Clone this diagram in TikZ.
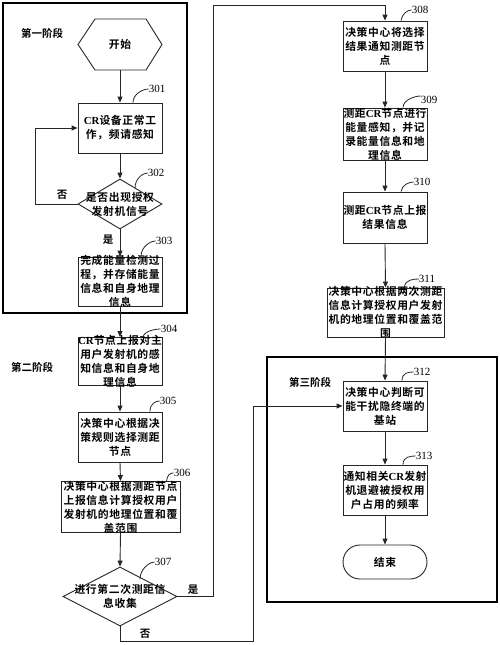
\documentclass[tikz,border=0pt]{standalone}
\usepackage{fontspec}
\setmainfont{Liberation Serif}
\newfontfamily\cjk{Noto Sans CJK SC Bold}[LetterSpace=6]
\newfontfamily\cjklbl{Noto Sans CJK SC Bold}
\usetikzlibrary{arrows.meta,shapes.geometric}
\newcommand{\crtxt}{{\rmfamily\bfseries CR}}
\tikzset{
  box/.style={draw=black!85, line width=0.9pt, inner sep=0pt},
  dia/.style={draw=black!85, line width=0.9pt, inner sep=0pt, diamond, aspect=1.6},
  txt/.style={inner sep=0pt, align=center, font=\cjk\fontsize{10.8}{14}\selectfont},
  stage/.style={draw=black, line width=1.6pt},
  stagelbl/.style={inner sep=0pt, font=\cjklbl\fontsize{10.5}{13}\selectfont},
  num/.style={inner sep=0pt, font=\fontsize{11}{13}\selectfont},
  lead/.style={draw=black!85, line width=0.8pt},
  arr/.style={draw=black!85, line width=0.9pt, -{Triangle[length=6pt,width=5pt]}},
  yn/.style={inner sep=0pt, font=\cjklbl\fontsize{10.5}{13}\selectfont}
}
\begin{document}
\begin{tikzpicture}[x=1pt,y=-1pt]
\useasboundingbox[fill=white] (0,0) rectangle (500,645);
% stage frames
\draw[stage] (3,3) rectangle (187,313);
\draw[stage] (267,357) rectangle (497,602);
\node[stagelbl] (s1) at (42,33) {第一阶段};
\node[stagelbl] (s2) at (32,367) {第二阶段};
\node[stagelbl] (s3) at (310,382) {第三阶段};

% start hexagon
\node[inner sep=0pt, minimum width=84pt, minimum height=51pt] (start) at (120,44.5) {};
\draw[box] (78,44.5) -- (95,19) -- (146,19) -- (162,44.5) -- (146,70) -- (95,70) -- cycle;
\node[txt] (tstart) at (start) {开始};

% left column
\node[box, minimum width=84pt, minimum height=50pt] (b301) at (120,128) {};
\node[txt] (t301) at (b301) {\crtxt 设备正常工\\作，频请感知};
\node[dia, minimum width=84pt, minimum height=50pt] (d302) at (120,204) {};
\node[txt] (t302) at (d302) {是否出现授权\\发射机信号};
\node[box, minimum width=84pt, minimum height=49pt] (b303) at (120,281.5) {};
\node[txt] (t303) at (b303) {完成能量检测过\\程，并存储能量\\信息和自身地理\\信息};
\node[box, minimum width=84pt, minimum height=48pt] (b304) at (120,361.5) {};
\node[txt] (t304) at (b304) {\crtxt 节点上报对主\\用户发射机的感\\知信息和自身地\\理信息};
\node[box, minimum width=84pt, minimum height=50pt] (b305) at (120,437) {};
\node[txt] (t305) at (b305) {决策中心根据决\\策规则选择测距\\节点};
\node[box, minimum width=119pt, minimum height=51pt] (b306) at (120.5,507) {};
\node[txt] (t306) at (b306) {决策中心根据测距节点\\上报信息计算授权用户\\发射机的地理位置和覆\\盖范围};
\node[dia, minimum width=114pt, minimum height=59pt] (d307) at (120,596.5) {};
\node[txt] (t307) at (d307) {进行第二次测距信\\息收集};

% right column
\node[box, minimum width=84pt, minimum height=50pt] (b308) at (385,46) {};
\node[txt] (t308) at (b308) {决策中心将选择\\结果通知测距节\\点};
\node[box, minimum width=84pt, minimum height=52pt] (b309) at (385,134) {};
\node[txt] (t309) at (b309) {测距\crtxt 节点进行\\能量感知，并记\\录能量信息和地\\理信息};
\node[box, minimum width=84pt, minimum height=51pt] (b310) at (385,217.5) {};
\node[txt] (t310) at (b310) {测距\crtxt 节点上报\\结果信息};
\node[box, minimum width=117pt, minimum height=49pt] (b311) at (385.5,312.5) {};
\node[txt] (t311) at (b311) {决策中心根据两次测距\\信息计算授权用户发射\\机的地理位置和覆盖范\\围};
\node[box, minimum width=84pt, minimum height=50pt] (b312) at (385,406) {};
\node[txt] (t312) at (b312) {决策中心判断可\\能干扰隐终端的\\基站};
\node[box, minimum width=84pt, minimum height=50pt] (b313) at (385,490) {};
\node[txt] (t313) at (b313) {通知相关\crtxt 发射\\机退避被授权用\\户占用的频率};
\node[box, rounded corners=17pt, minimum width=84pt, minimum height=34pt] (end) at (385,562) {};
\node[txt] (tend) at (end) {结束};

% connectors
\draw[arr] (start.south) -- (b301.north);
\draw[arr] (b301.south) -- (d302.north);
\draw[arr] (d302.west) -- ++(-42,0) |- (b301.west);
\node[yn] (no1) at (62,195) {否};
\draw[arr] (d302.south) -- (b303.north);
\node[yn] (yes1) at (108,240) {是};
\draw[arr] (b303.south) -- (b304.north);
\draw[arr] (b304.south) -- (b305.north);
\draw[arr] (b305.south) -- (b306.north);
\draw[arr] (b306.south) -- (d307.north);
\coordinate (c1) at (213,5);
\draw[arr] (d307.east) -| (c1) -| (b308.north);
\node[yn] (yes2) at (193,590) {是};
\coordinate (c2) at (253,641);
\draw[arr] (d307.south) |- (c2) |- (b312.west);
\node[yn] (no2) at (145,634) {否};
\draw[arr] (b308.south) -- (b309.north);
\draw[arr] (b309.south) -- (b310.north);
\draw[arr] (b310.south) -- (b311.north);
\draw[arr] (b311.south) -- (b312.north);
\draw[arr] (b312.south) -- (b313.north);
\draw[arr] (b313.south) -- (end.north);

% step numbers with leaders
\node[num] (n301) at (157,89) {301};
\draw[lead] ([xshift=13pt]b301.north) .. controls +(0,-9) and +(-5,0) .. (n301.west);
\node[num] (n302) at (156,173) {302};
\draw[lead] (135,188) .. controls +(0,-9) and +(-5,0) .. (n302.west);
\node[num] (n303) at (164,241) {303};
\draw[lead] ([xshift=21pt]b303.north) .. controls +(0,-10) and +(-5,0) .. (n303.west);
\node[num] (n304) at (169,329) {304};
\draw[lead] ([xshift=23pt]b304.north) .. controls +(1,-6) and +(-5,0) .. (n304.west);
\node[num] (n305) at (168,401) {305};
\draw[lead] ([xshift=30pt]b305.north) .. controls +(0,-8) and +(-4,0) .. (n305.west);
\node[num] (n306) at (182,473) {306};
\draw[lead] ([xshift=46pt]b306.north) .. controls +(1,-6) and +(-4,0) .. (n306.west);
\node[num] (n307) at (163,562) {307};
\draw[lead] (140,579) .. controls +(0,-10) and +(-5,0) .. (n307.west);
\node[num] (n308) at (420,10) {308};
\draw[lead] ([xshift=16pt]b308.north) .. controls +(1,-7) and +(-4,0) .. (n308.west);
\node[num] (n309) at (429,100) {309};
\draw[lead] ([xshift=18pt]b309.north) .. controls +(0,-8) and +(-5,0) .. (n309.west|-0,96);
\node[num] (n310) at (422,182) {310};
\draw[lead] ([xshift=16pt]b310.north) .. controls +(1,-7) and +(-4,0) .. (n310.west);
\node[num] (n311) at (427,279) {311};
\draw[lead] ([xshift=19pt]b311.north) .. controls +(0,-8) and +(-5,0) .. (n311.west);
\node[num] (n312) at (422,372) {312};
\draw[lead] ([xshift=17pt]b312.north) .. controls +(0,-8) and +(-5,0) .. (n312.west);
\node[num] (n313) at (424,456) {313};
\draw[lead] ([xshift=18pt]b313.north) .. controls +(0,-8) and +(-5,0) .. (n313.west);
\end{tikzpicture}
\end{document}
